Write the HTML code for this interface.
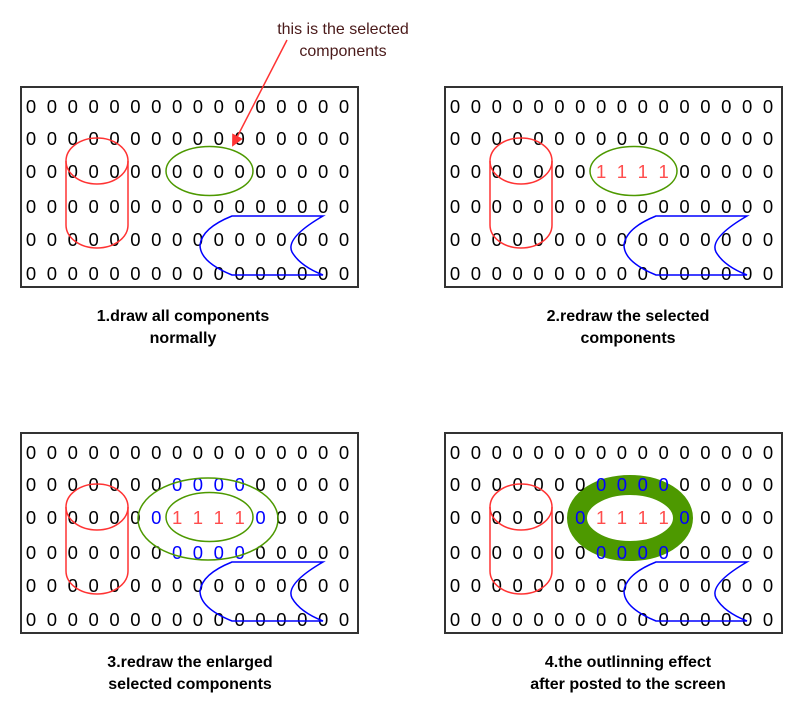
<!DOCTYPE html>
<html><head><meta charset="utf-8"><style>
html,body{margin:0;padding:0;background:#fff;}
svg text{font-family:"Liberation Sans",sans-serif;}
</style></head><body>
<svg id="s" width="806" height="720" viewBox="0 0 806 720" xmlns="http://www.w3.org/2000/svg">
<defs><marker id="ah" markerWidth="12" markerHeight="12" refX="10" refY="6" orient="auto" markerUnits="userSpaceOnUse"><path d="M0,0 L12,6 L0,12 z" fill="#ff3333"/></marker></defs>
<text x="343" y="34" font-size="16" fill="#4a1a1a" text-anchor="middle">this is the selected</text>
<text x="343" y="56" font-size="16" fill="#4a1a1a" text-anchor="middle">components</text>
</svg>
<script>
const NS='http://www.w3.org/2000/svg';
const svg=document.getElementById('s');
const cols=16, rows=6;
const panels=[
 {dx:0,dy:0,cx:183,name:'panel-1',cap:['1.draw all components','normally'],stage:1},
 {dx:424,dy:0,cx:204,name:'panel-2',cap:['2.redraw the selected','components'],stage:2},
 {dx:0,dy:346,cx:190,name:'panel-3',cap:['3.redraw the enlarged','selected components'],stage:3},
 {dx:424,dy:346,cx:204,name:'panel-4',cap:['4.the outlinning effect','after posted to the screen'],stage:4}
];
function el(t,a,p){const e=document.createElementNS(NS,t);for(const k in a)e.setAttribute(k,a[k]);(p||svg).appendChild(e);return e;}
panels.forEach(P=>{
 const g=el('g',{transform:`translate(${P.dx},${P.dy})`});
 
 
 const r=el('rect',{x:21,y:87,width:337,height:200,fill:'#fff',stroke:'#333',"stroke-width":2},g);
 
 
 if(P.stage===4){
  const o=el('ellipse',{cx:206,cy:172,rx:53,ry:33,fill:'none',stroke:'#4d9900','stroke-width':20},g);
  
  
 }
 const rowY=[106,138,171,206,239,273];
 for(let i=0;i<rows;i++)for(let j=0;j<cols;j++){
  let ch='0',col='#000';
  const inSel=(i===2&&j>=7&&j<=10);
  if(P.stage>=2&&inSel){ch='1';col='#ff4d4d';}
  if(P.stage>=3){
   if((i===1||i===3)&&j>=7&&j<=10)col='#0000ff';
   if(i===2&&(j===6||j===11))col='#0000ff';
  }
  const t=el('text',{x:31+j*20.87,y:rowY[i]+7,'font-size':18.5,fill:col,'text-anchor':'middle'},g);
  t.textContent=ch;
  
  
 }
 const cyl=el('g',{fill:'none',stroke:'#ff3333','stroke-width':1.5},g);
 
 
 el('ellipse',{cx:97,cy:161,rx:31,ry:23},cyl);
 el('path',{d:'M66,161 L66,225 A31,23 0 0 0 128,225 L128,161'},cyl);
 const bl=el('path',{d:'M232,216 L323,216 Q285,238 292,252 Q300,266 323,275 L232,275 Q200,262 200,245 Q202,228 232,216 Z',fill:'none',stroke:'#0000ff','stroke-width':1.5},g);
 
 
 if(P.stage<=3){
  const e=el('ellipse',{cx:209.5,cy:171,rx:43.5,ry:24.5,fill:'none',stroke:'#4d9900','stroke-width':1.5},g);
  
  
 }
 if(P.stage===3){
  const e=el('ellipse',{cx:208,cy:173,rx:70,ry:41,fill:'none',stroke:'#4d9900','stroke-width':1.5},g);
  
  
 }
 P.cap.forEach((c,k)=>{
  const t=el('text',{x:P.cx,y:321+k*22,'font-size':16,'font-weight':'bold',fill:'#000','text-anchor':'middle'},g);
  t.textContent=c;
  
  
 });
});
const ar=el('line',{x1:287,y1:40,x2:233,y2:145,stroke:'#ff3333','stroke-width':1.5,'marker-end':'url(#ah)'});


</script>
</body></html>
